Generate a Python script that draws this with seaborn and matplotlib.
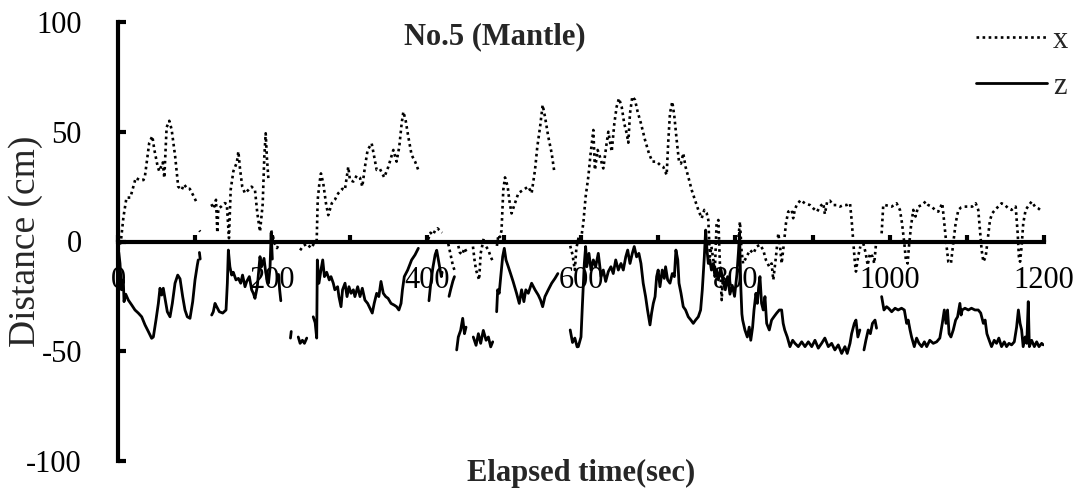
import numpy as np
import pandas as pd
import matplotlib
matplotlib.use("Agg")
import matplotlib.pyplot as plt
from matplotlib.lines import Line2D
import seaborn as sns

NaN = np.nan

# ---- data (NaN marks a gap in the record) ----
x_time = [0, 2, 4, 7, 11, 16, 23, 28, 33, 35, 40.5, 44.5, 47, 51.5, 53.5, 58, 60, 63, 66.5, 69.5, 74, 78,
          82.5, 85.5, 90, 93, 97.5, 103, NaN,
          105.5, 106.5, NaN,
          121, 124, 127, 128.7, 130, 134, 138.5, 141, 143.8, 146, 149.5, 154, 156, 158, 161, 164.5, 169, 173,
          177.5, 180.5, 184, 187.5, 189.6, 191.4, 193, 195, NaN,
          198.5, 201, 203, 206, 209, NaN,
          236, 240, 245, 250, 254, 257.5, 258.8, 261, 263, 266, 269.5, 272.5, 277, 281, 285.5, 290.7, 294, 298.4,
          300.6, 305, 309.3, 313.6, 316.6, 320, 323.5, 328.7, 331.6, 335.2, 339.5, 345, 350.3, 356.8, 361,
          364.5, 367.6, 369.8, 372.7, 376.2, 380.5, 385, 390, NaN,
          402, 405, 408, 411, 414, 417, 420, NaN,
          428, 431, 434, 437, NaN,
          441, 443, 446, 449, 452, NaN,
          460, 462, 464, 468, 470, 474, 477, 480, 483, 486, NaN,
          491, 493, 495, 497, 499.3, 501.5, 505, 507, 510, 514.4, 518.8, 525, 531.7, 536, 540.4, 543.4, 547,
          550.3, 553.3, 557.6, 562, 565.4, NaN,
          586, 589, 592, 594, 597, 600, 603, 606, 609.5, 612.5, 616, 618, 621.6, 624.5, 628.9, 633.2, 635.4,
          639.8, 643.2, 646.2, 649.2, 652.7, 656, 659.2, 661.3, 663.5, 666.5, 670, 673.4, 677.7, 683, 688,
          692.4, 698, 702.3, 706.6, 711, 713.2, 715.3, 718.3, 721, 724, 727, 729.6, 732.5, 735.5, 739, 743.4,
          747.7, 752, 756.4, 759.8, 762.8, 765, 767, 769, 771.5, 773.5, 775.7, 778, 780, 782.3, 784, 786, NaN,
          804, 806, 808, 810, 814.5, 819, 823.4, 827.6, 832, 836.2, 839.6, 844, 847, 849.2, 852.6, 855.7, 858,
          860, 863, 865.6, 868.6, 873, 875, 877, 879.5, 884.6, 890, 896.7, 901, 906, 909.6, 914, 916, 919,
          922.5, 927, 931, 935.6, 940, 944.3, 948.6, 950.7, 953, 955, 956.3, 959, 962, NaN,
          965.8, 969, 971.5, 974.5, 978, 980, 982.2, NaN,
          989.6, 991.7, 994, 1002.6, 1009, 1013.3, 1016, 1019, 1021, 1023.3, 1025, 1027.6, 1030.6, 1033.5,
          1037, 1041.5, 1046.7, 1050, 1054.4, 1058.7, 1063, 1068.2, 1070.8, 1073.8, 1076, 1079.4, 1082.4,
          1085.5, 1089, 1092.6, 1096.7, 1102, 1107, 1111.5, 1114.8, 1117, 1119.2, 1121.4, 1124.4, 1127, 1130,
          1133, 1136.6, 1140.7, 1145, 1149.4, 1153.7, 1158, 1163.3, 1165.9, 1167.5, 1169, 1171, 1173.1,
          1176.2, 1180.5, 1184, 1188.3, 1192.6, 1197.8]
x_dist = [-4, -2, 1, 11, 20, 20, 29, 28, 28, 30, 45, 48, 42, 34, 32, 36, 29, 52, 55, 51, 39, 25,
          23.5, 26, 24, 24, 21, 17, NaN,
          5, 4.5, NaN,
          17, 15, 19, 4, 15, 16, 17.5, 17, 1.5, 23.5, 32, 36, 41, 33.5, 25, 22, 23.5, 25,
          23.5, 13, 4.5, 17, 38.6, 49.3, 38, 28, NaN,
          5, 2, -1, -3, -1, NaN,
          -4, -2, -1, -3, -1, 0.5, 19, 26.5, 31, 26.5, 17.4, 12, 17.4, 19, 22, 24, 23.5, 34,
          28, 27.3, 30, 29, 25, 34, 41.7, 44.7, 39.4, 32.6, 33, 29.2, 34, 41.7, 36.4,
          43.2, 53.8, 59.1, 55.3, 47.7, 39.4, 36.4, 31.8, NaN,
          1, 4, 3, 5, 6, 5, 4, NaN,
          -1, -6, -11, -14, NaN,
          -2, -5, -6, -3, -5, NaN,
          -2.3, -8.4, -13, -17.5, -5.4, 1.5, -2.3, -3.9, -7, -9.2, NaN,
          -2, 3, 2, 5, 23.5, 29.2, 25, 19, 12.8, 17.4, 22, 23.5, 25, 22, 32.6, 43.2, 52.3,
          62.2, 56.9, 47.7, 40.2, 31.8, NaN,
          -2, -6, -13, -3, 2, 1, 8.3, 20.4, 29.5, 40.2, 50.8, 32.6, 41.7, 38.6, 33.3, 44.7, 50,
          40.9, 53.8, 61.4, 65.2, 61.4, 53.8, 49.3, 45, 58.4, 66, 64.5, 59.1, 53.8, 46.2, 40.2,
          36.4, 36.4, 34.9, 34, 30.3, 46.2, 58.4, 63.7, 56.9, 46.2, 36.4, 35.5, 40.2, 34, 29.5, 23.5,
          18.9, 14.4, 10.6, 14.4, 13, 9.8, -6.9, -2.3, -8.4, -13, 8.3, 9.8, -10, -26.7, -16, -20, NaN,
          2, 9, -3.9, -10, -7, -3.9, -5.4, -2.3, -1.5, -3.9, -8.4, -11.5, -10, -17.5, -7, 3.7, -2.3,
          -10, -0.8, 8.3, 13.6, 14.4, 10.6, 14.4, 16.6, 18.9, 17.4, 16.6, 15.1, 13.6, 15.9, 17.4, 12.5, 18.2,
          18.6, 16.6, 16.6, 15.9, 16.6, 16.6, 17.4, 9.8, -0.8, -10, -13.7, -7, -2.3, NaN,
          -0.8, -5.4, -10.8, -5.4, -7, -10, -1.5, NaN,
          3.7, 16.6, 16.6, 15.9, 17.4, 14.4, 8.3, -0.8, -8.4, -10, -2.3, 6.8, 14.4, 11.4,
          15.9, 16.6, 18.2, 16.6, 15.9, 14.4, 13.6, 17.4, 8.3, -2.3, -9.2, -10, -0.8,
          8.3, 14.4, 15.5, 15.9, 15.9, 15.9, 17.4, 14.4, 5.2, -3.9, -9.2, -7, 0.7, 9.8,
          12.9, 14.4, 15.9, 17.4, 16.6, 15.1, 14.4, 15.9, 3.7, -7, -9.2, -2.3, 8.3,
          14.4, 16.6, 18.2, 15.9, 15.1, 13.6]

z_time = [1, 2.6, 4.5, 6.9, 7.8, 10, 13.4, 17.7, 22, 26.3, 30.7, 35, 39.3, 43.6, 45.8, 49.2, 52.3, 54.4,
          56.6, 58.7, 60.9, 63.9, 67.4, 70.4, 73.9, 77.4, 80.4, 83.8, 86.8, 89.8, 93.3, 96.8, 99.8, 102.8,
          104, NaN,
          105.5, 106.5, NaN,
          121.4, 123.5, 125.7, 127.9, 131.3, 135.7, 140, 141.7, 143, 145, 147.3, 149.4, 152.9, 156, 159, 161.4,
          164.6, 166.8, 170.2, 173.2, 175.4, 177.5, 180.5, 184, 186, 189.2, 191.4, 193, 195, 197, 198.5, 200,
          NaN,
          208, 209.5, 211, NaN,
          223.5, 224.5, NaN,
          233.6, 236, 239, 241.6, 244.6, NaN,
          253, 255.5, 257.5, 258.3, 260.4, 263, 265.3, 267.5, 270.4, 273.8, 276, 279, 281, 284.6, 286.3, 289,
          291, 294.2, 296.8, 299.3, 302, 305, 307, 310.6, 313.6, 316.6, 320, 323.5, 326.5, 329.5, 332, 335.2,
          338, 340.8, 343.8, 346.9, 350, 353.8, 358, 361, 364, 366.8, 368.6, 371, 375.4, 380.5, 384.9, 389.2,
          NaN,
          403, 405, 408, 411, 413, 415, 417, 419, 420, NaN,
          429, 431, 434, 436, NaN,
          438.9, 441, 444, 446.7, 449, 451, NaN,
          460.4, 464, 467, 470, 473.4, 477, 480, 483, 485.6, NaN,
          490.7, 492, 494, 496, 498.5, 500.6, 502.8, 505.8, 508.7, 512, 516.5, 520, 523, 526, 528.5, 531.7,
          536, 540.4, 544.6, 547.6, 550.3, 553.3, 557.6, 562, 566.3, 570, NaN,
          586, 589, 592, 595, 596.5, 600, 601.7, 604.3, 606, 607.5, 610.3, 613, 616, 619, 622.4, 626, 628.9,
          632, 635.4, 638.8, 641.8, 645, 648.4, 651.8, 654.8, 658, 660.5, 663.5, 666.5, 669, 672, 675, 677.7,
          680.6, 683.7, 686.2, 689.4, 691.5, 693.7, 696, 698, 700, 702.3, 705.3, 707.9, 709.6, 712.3, 715.3,
          718.3, 721, 723, 725.4, 727, 729.6, 732.5, 735.5, 739, 742.4, 745.5, 748.5, 752, 755, 757.2, 759.8,
          761.5, 763.3, 765, 767, 769, 771.5, 773.5, 775.7, 778, 781, 784, 787, 790, 793, 796, 799, 802, 804,
          805.5, 807, 808.5, 809.5, 812.4, 815.5, 818, 820, 822.4, 824.2, 826.7, 828.5, 830.3, 831.9, 834,
          836.2, 838.4, 840.6, 844, 847, 850, 853.6, 857, 860, 862, 864, 867.3, 870.8, 874.3, 877.3, 881.6,
          886, 890.3, 894.6, 899, 903.2, 907.5, 911.8, 916, 920.5, 924.8, 929, 933.4, 937.8, 942, 945, 948.6,
          950.7, 954.2, 956.3, 958.8, 961.4, NaN,
          966.7, 969.2, 972.2, 975, 977.7, 981, 983, NaN,
          989.6, 992.6, 996, 998.5, 1002.6, 1007, 1011, 1015.4, 1019, 1022, 1024, 1026.4, 1028.4, 1031.9,
          1034.9, 1038, 1041.5, 1045, 1048, 1052, 1056.5, 1060.9, 1065, 1068.2, 1070.8, 1073, 1075, 1077,
          1079.4, 1082.4, 1085.5, 1088, 1091, 1092.6, 1094, 1097.6, 1102, 1106, 1110.5, 1114.8, 1118, 1121.4,
          1123.7, 1126, 1129, 1132, 1135.5, 1138.5, 1141.5, 1145, 1148.5, 1151.5, 1154.6, 1158, 1161.5,
          1164.5, 1166.8, 1169, 1171, 1173, 1175.6, 1177.7, 1179.6, 1181, 1184, 1187.5, 1190.5, 1193.5,
          1197, 1199]
z_dist = [-5, -10, -22, -17.5, -27.4, -24, -26.7, -28.9, -31.2, -32.6, -34.3, -38, -41, -44.1, -43.5, -35.8,
          -28.2, -21.3, -24.4, -21.3, -25.9, -32, -34.3, -28.2, -19, -15.3, -17, -25.1, -31.2, -34.3, -35,
          -27.4, -17.5, -10.7, -8.4, NaN,
          -5, -8, NaN,
          -33.5, -32, -28.2, -29.7, -32, -32.6, -31.2, -19, -3.9, -11.5, -15.3, -14, -17.5, -16.8, -19, -15.3,
          -20.6, -18.2, -16, -22, -23.6, -25.9, -20.6, -6.9, -11.5, -7.7, -14, -17, -19, -12, 4, -8, NaN,
          -15, -22, -27, NaN,
          -44, -41, NaN,
          -43.5, -46.4, -45, -46.4, -44, NaN,
          -34.3, -37, -44, -8.4, -19, -13, -8.4, -16, -14, -17.5, -16, -19, -22, -20.6, -25.1, -29.7,
          -22, -19, -25.1, -20.6, -23.6, -22, -25.1, -20.6, -25.1, -21.3, -26.7, -28.2, -30.4, -32.6, -28.2,
          -23.6, -25.1, -18.2, -23.6, -25.1, -25.9, -28.2, -29, -29.7, -31.2, -28.2, -22, -16, -13, -8.4,
          -6.1, -3.1, NaN,
          -27, -20, -12, -6, -4, -8, -12, -16, -14, NaN,
          -25, -22, -18, -16, NaN,
          -49.4, -43.5, -40.5, -35, -42, -39, NaN,
          -43.5, -47.3, -42, -46.4, -40.5, -45, -43.5, -48, -45.7, NaN,
          -32, -22, -23.6, -16, -6.9, -3.1, -8.4, -11.5, -14.6, -18.2, -23.6, -28.2, -22, -27.4, -22, -23.6,
          -19, -22, -24.4, -26.7, -29.7, -25.1, -22, -19, -16.8, -14.6, NaN,
          -40.3, -46, -44, -48, -47.9, -43.5, -29.7, -10, -2.3, -11.5, -5.4, -13, -8.4, -11.5, -5.4, -16, -13,
          -18.2, -13.7, -11.5, -14.6, -8.4, -13, -10, -13, -7, -3.9, -10, -5.4, -2.3, -7, -5.4, -10,
          -19, -25.1, -31.2, -38, -32.6, -28.2, -25.1, -16, -13, -20.6, -13, -16.8, -11.5, -17.5, -19,
          -14.6, -16, -3.9, -8.4, -19, -23.6, -29.7, -31.2, -34.3, -35.8, -37.3, -35.8, -34.3, -31.2, -22, -7,
          5.2, -3.9, -10, -8.4, -13, -10, -16, -13, -17.5, -12, -18, -22, -16, -24, -20, -25, -15, -5,
          4, -20, -33, -35.8, -40.3, -43.5, -39, -45, -39, -31.2, -23.6, -28.2, -20.6, -16, -28.2,
          -31.2, -25.1, -37.3, -40.3, -35.8, -34.3, -32.6, -31.2, -31.2, -37.3, -40.3, -43.5, -47.9, -45, -46.4,
          -47.9, -45.7, -47.9, -45.7, -47.9, -45, -48.6, -46.4, -44, -47.9, -46.4, -49.4, -47.1, -51, -47.9,
          -51, -46.4, -42, -37.3, -35.8, -43.5, -40.3, NaN,
          -49.4, -45, -40.3, -42, -37.3, -35.8, -39.5, NaN,
          -25.1, -31.2, -29.7, -30.4, -32, -30.4, -31.2, -30.4, -31.2, -37.3, -35.8, -40.3, -43.5, -47.9,
          -44, -46.4, -47.9, -45.7, -47.9, -45, -46.4, -45.7, -44, -37.3, -31.2, -37.3, -31.2, -42,
          -43.5, -40.3, -35.8, -34.3, -28.2, -33.5, -31.2, -30.4, -31.2, -30.4, -31.2, -31.2, -32.6, -37.3,
          -35.8, -42, -45, -47.9, -45, -46.4, -44, -47.9, -45.7, -47.9, -46.4, -47.1, -45.7,
          -39, -31.2, -37.3, -40.3, -47.9, -43.5, -46.4, -27.4, -47.9, -45, -47.9, -45.7, -47.9,
          -46.4, -47.1]

series_labels = ["x", "z"]
y_ticks = [-100, -50, 0, 50, 100]
y_ticklabels = ["-100", "-50", "0", "50", "100"]
x_ticks = list(range(0, 1201, 100))
x_ticklabels = ["0", "", "200", "", "400", "", "600", "", "800", "", "1000", "", "1200"]
title_text = "No.5 (Mantle)"
x_label = "Elapsed time(sec)"
y_label = "Distance (cm)"


def to_frame(t, v):
    df = pd.DataFrame({"time": t, "dist": v})
    df["seg"] = df["dist"].isna().cumsum()
    return df.dropna().reset_index(drop=True)


dfx = to_frame(x_time, x_dist)
dfz = to_frame(z_time, z_dist)

sns.set_theme(style="white")
plt.rcParams["font.family"] = ["Liberation Serif", "DejaVu Serif"]
plt.rcParams["axes.unicode_minus"] = False

FS = 22
DOT = (0, (1, 1.3))

fig = plt.figure(figsize=(10.81, 4.93), dpi=100)
ax = fig.add_axes([118 / 1081, 1 - 461 / 493, 926 / 1081, 439 / 493])

sns.lineplot(data=dfx, x="time", y="dist", units="seg", estimator=None, sort=False,
             color="black", linewidth=1.9, linestyle=DOT, ax=ax)
sns.lineplot(data=dfz, x="time", y="dist", units="seg", estimator=None, sort=False,
             color="black", linewidth=2.0, ax=ax)

ax.set_xlim(0, 1200)
ax.set_ylim(-100, 100)
for s in ["top", "right"]:
    ax.spines[s].set_visible(False)
ax.spines["bottom"].set_position(("data", 0))
ax.spines["bottom"].set_linewidth(3)
ax.spines["left"].set_linewidth(3)
ax.spines["bottom"].set_color("black")
ax.spines["left"].set_color("black")

ax.set_xticks(x_ticks)
ax.set_xticklabels(x_ticklabels)
ax.set_yticks(y_ticks)
ax.set_yticklabels(y_ticklabels)
ax.tick_params(axis="x", bottom=True, direction="in", length=5, width=3, pad=18,
               labelsize=FS, colors="black")
ax.tick_params(axis="y", left=True, direction="in", length=6, width=3, pad=26,
               labelsize=FS, colors="black")

ax.text(0.407, 0.966, title_text, transform=ax.transAxes, ha="center", va="center",
        fontsize=FS, fontweight="bold")

ax.set_xlabel(x_label, fontsize=FS, fontweight="bold")
ax.xaxis.set_label_coords(0.5, -0.028)
ax.xaxis.label.set_va("center")
ax.set_ylabel(y_label, fontsize=27)
ax.yaxis.set_label_coords(-0.1, 0.5)
ax.yaxis.label.set_va("center")

handles = [Line2D([], [], color="black", linewidth=1.9, linestyle=DOT),
           Line2D([], [], color="black", linewidth=2.0)]
fig.legend(handles, series_labels, loc="upper right", bbox_to_anchor=(1068 / 1081, 1 - 26 / 493),
           frameon=False, fontsize=FS, handlelength=2.3, handletextpad=0.2, labelspacing=0.55,
           borderpad=0, borderaxespad=0)

fig.savefig("out.png", dpi=100)
